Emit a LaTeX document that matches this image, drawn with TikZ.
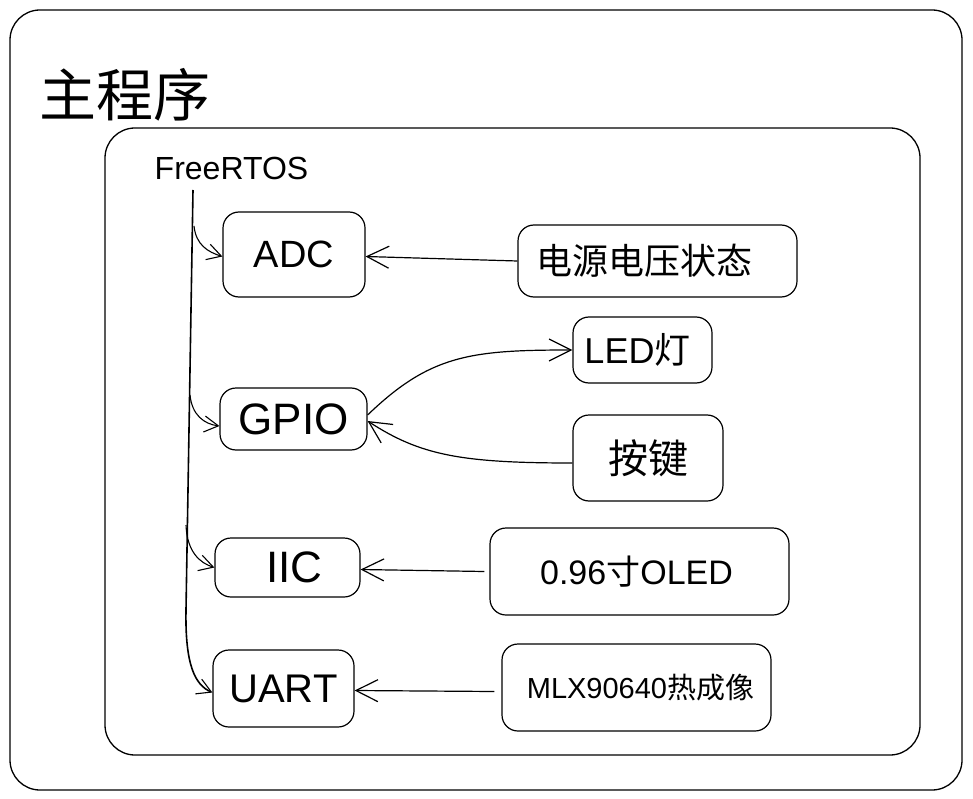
\documentclass[tikz,border=0pt]{standalone}
\usepackage{fontspec}
\setmainfont{Liberation Sans}
\newfontfamily\cjk{Noto Sans CJK SC}
\usetikzlibrary{arrows.meta}
\tikzset{
  frame/.style={draw=black, line width=1.3pt, rounded corners=30pt},
  blk/.style={draw=black, line width=1.2pt, rounded corners=16pt, inner sep=0pt, align=center},
  conn/.style={draw=black, line width=1.2pt, -{Straight Barb[length=22pt,width=22pt,line width=1.2pt]}},
  brn/.style={draw=black, line width=1.1pt, -{Straight Barb[length=14pt,width=16pt,line width=1.1pt]}},
}
\newcommand{\fs}[1]{\fontsize{#1}{#1}\selectfont}
\begin{document}
\begin{tikzpicture}[x=1pt,y=-1pt]
\useasboundingbox (0,0) rectangle (973,799);
\fill[white] (0,0) rectangle (973,799);
\draw[frame] (10,10) rectangle (962,790);
\draw[frame] (105,128) rectangle (920,755);
\node[anchor=center] (title) at (125,95) {\cjk\fs{57}主程序};
\node[anchor=base] (free) at (231.5,180) {\fs{32}FreeRTOS};

\node[blk, minimum width=142pt, minimum height=85pt] (adc) at (294,254.5) {\fs{38}ADC};
\node[blk, minimum width=147pt, minimum height=62pt] (gpio) at (293.5,419) {\fs{44}GPIO};
\node[blk, minimum width=145pt, minimum height=59pt] (iic) at (287.5,567.5) {\fs{44}IIC\kern-14pt};
\node[blk, minimum width=141pt, minimum height=77pt] (uart) at (283.5,688.5) {\fs{40}UART};

\node[blk, minimum width=279pt, minimum height=72pt] (pwr) at (657.5,261) {\kern-26pt\cjk\fs{36}电源电压状态};
\node[blk, minimum width=139pt, minimum height=66pt] (led) at (642.5,350) {\kern-10pt\fs{36}LED{\cjk 灯}};
\node[blk, minimum width=150pt, minimum height=86pt] (key) at (648,458) {\cjk\fs{40}按键};
\node[blk, minimum width=299pt, minimum height=87pt] (oled) at (639.5,571.5) {\kern-6pt\fs{34}0.96{\cjk 寸}OLED};
\node[blk, minimum width=269pt, minimum height=87pt] (mlx) at (636.5,687.5) {\fs{29}MLX90640{\cjk 热成像}\kern-8pt};

% trunk and branches
\coordinate (t0) at (193,190);
\coordinate (t1) at (186,610);
\coordinate (b1) at (194,226);
\coordinate (b2) at (190,395);
\coordinate (b3) at (186,525);
\draw[brn, line width=1.6pt] (t0) -- (t1) .. controls (185,665) and (195,685) .. ([yshift=-4pt]uart.west);
\draw[brn] (b1) .. controls (196,245) and (208,252) .. ([yshift=-2pt]adc.west);
\draw[brn] (b2) .. controls (192,415) and (204,424) .. ([yshift=-7pt]gpio.west);
\draw[brn] (b3) .. controls (187,552) and (200,563) .. (iic.west);

% side arrows
\draw[conn] (pwr.west) -- ([yshift=-2pt]adc.east);
\draw[conn] ([yshift=4pt]gpio.east) .. controls (430,355) and (470,350) .. (led.west);
\draw[conn] ([yshift=-5pt]key.west) .. controls (460,463) and (420,455) .. ([yshift=-2pt]gpio.east);
\draw[conn] ([xshift=-5pt]oled.west) -- ([yshift=-2pt]iic.east);
\draw[conn] ([xshift=-7pt,yshift=-4pt]mlx.west) -- ([yshift=-2pt]uart.east);
\end{tikzpicture}
\end{document}
